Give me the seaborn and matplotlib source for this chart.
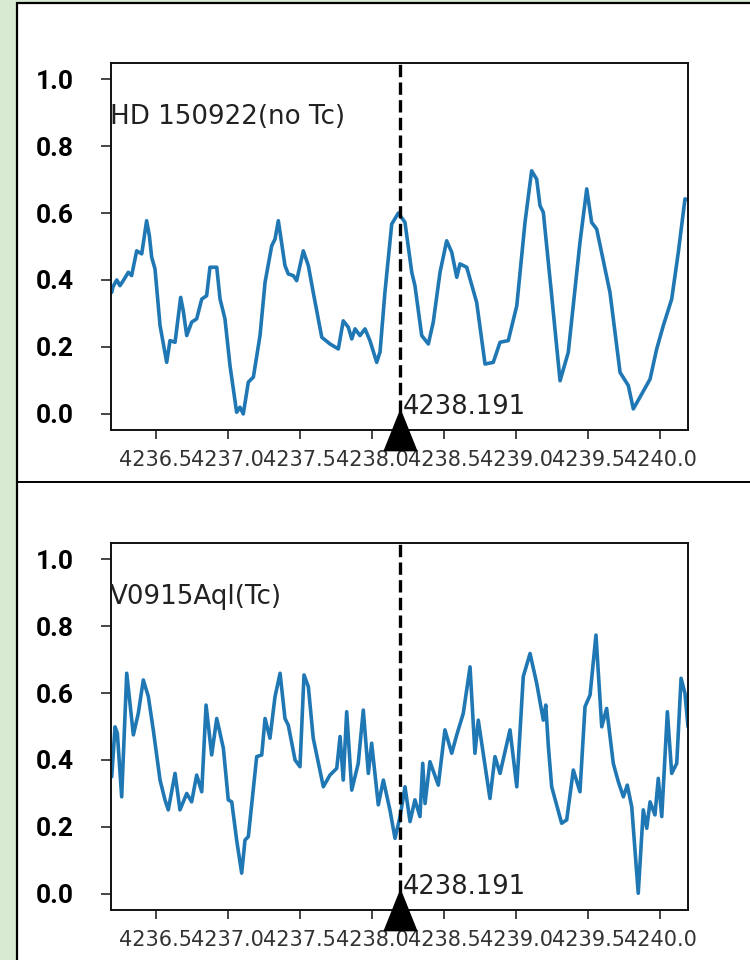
import numpy as np
import pandas as pd
import matplotlib.pyplot as plt
import seaborn as sns
from matplotlib.patches import Rectangle
from matplotlib.lines import Line2D

# Tc I line and the window shown around it
line_center = 4238.191
half_window = 2.0

# HD 150922 (no Tc) - normalised spectrum
hd_wave = [4236.196, 4236.205, 4236.231, 4236.253, 4236.276, 4236.311, 4236.334, 4236.369,
           4236.404, 4236.438, 4236.457, 4236.473, 4236.496, 4236.531, 4236.577, 4236.600,
           4236.635, 4236.674, 4236.692, 4236.716, 4236.750, 4236.785, 4236.820, 4236.854,
           4236.877, 4236.924, 4236.947, 4236.981, 4237.016, 4237.062, 4237.085, 4237.108,
           4237.143, 4237.178, 4237.224, 4237.259, 4237.305, 4237.328, 4237.351, 4237.363,
           4237.397, 4237.420, 4237.455, 4237.478, 4237.524, 4237.559, 4237.593, 4237.652,
           4237.709, 4237.767, 4237.801, 4237.836, 4237.860, 4237.883, 4237.917, 4237.952,
           4237.986, 4238.033, 4238.056, 4238.090, 4238.137, 4238.183, 4238.229, 4238.276,
           4238.298, 4238.345, 4238.391, 4238.425, 4238.472, 4238.518, 4238.553, 4238.588,
           4238.610, 4238.657, 4238.726, 4238.784, 4238.841, 4238.888, 4238.945, 4239.004,
           4239.061, 4239.107, 4239.142, 4239.165, 4239.188, 4239.246, 4239.304, 4239.361,
           4239.442, 4239.489, 4239.523, 4239.558, 4239.650, 4239.720, 4239.777, 4239.812,
           4239.858, 4239.928, 4239.974, 4240.020, 4240.078, 4240.124, 4240.170, 4240.191]
hd_flux = [0.363, 0.380, 0.400, 0.383, 0.398, 0.423, 0.413, 0.487,
           0.478, 0.577, 0.532, 0.468, 0.433, 0.264, 0.154, 0.219,
           0.214, 0.348, 0.308, 0.234, 0.274, 0.284, 0.343, 0.353,
           0.438, 0.438, 0.343, 0.284, 0.144, 0.005, 0.020, 0.000,
           0.095, 0.110, 0.234, 0.393, 0.502, 0.522, 0.577, 0.542,
           0.443, 0.418, 0.413, 0.398, 0.487, 0.443, 0.363, 0.229,
           0.209, 0.194, 0.278, 0.259, 0.224, 0.254, 0.234, 0.254,
           0.219, 0.154, 0.185, 0.363, 0.567, 0.600, 0.572, 0.423,
           0.383, 0.234, 0.209, 0.274, 0.423, 0.517, 0.483, 0.408,
           0.448, 0.438, 0.333, 0.149, 0.154, 0.214, 0.219, 0.323,
           0.572, 0.726, 0.701, 0.622, 0.602, 0.353, 0.099, 0.184,
           0.512, 0.672, 0.572, 0.552, 0.363, 0.124, 0.085, 0.015,
           0.050, 0.104, 0.194, 0.264, 0.343, 0.483, 0.642, 0.640]

# V0915 Aql (Tc)
v_wave = [4236.196, 4236.219, 4236.235, 4236.265, 4236.300, 4236.346, 4236.380, 4236.415,
          4236.450, 4236.484, 4236.531, 4236.565, 4236.588, 4236.635, 4236.669, 4236.716,
          4236.750, 4236.785, 4236.820, 4236.850, 4236.889, 4236.924, 4236.970, 4237.004,
          4237.028, 4237.062, 4237.097, 4237.120, 4237.143, 4237.201, 4237.236, 4237.259,
          4237.293, 4237.328, 4237.363, 4237.397, 4237.420, 4237.467, 4237.501, 4237.529,
          4237.559, 4237.593, 4237.663, 4237.709, 4237.756, 4237.779, 4237.801, 4237.825,
          4237.860, 4237.905, 4237.940, 4237.975, 4237.998, 4238.044, 4238.079, 4238.125,
          4238.160, 4238.195, 4238.229, 4238.264, 4238.298, 4238.333, 4238.352, 4238.368,
          4238.402, 4238.460, 4238.506, 4238.553, 4238.588, 4238.633, 4238.680, 4238.714,
          4238.737, 4238.818, 4238.853, 4238.888, 4238.957, 4239.004, 4239.049, 4239.096,
          4239.142, 4239.188, 4239.205, 4239.223, 4239.246, 4239.315, 4239.350, 4239.396,
          4239.442, 4239.477, 4239.512, 4239.553, 4239.593, 4239.627, 4239.673, 4239.708,
          4239.743, 4239.770, 4239.801, 4239.846, 4239.881, 4239.905, 4239.928, 4239.962,
          4239.985, 4240.009, 4240.048, 4240.078, 4240.113, 4240.143, 4240.170, 4240.191]
v_flux = [0.350, 0.499, 0.480, 0.290, 0.659, 0.475, 0.539, 0.639,
          0.589, 0.490, 0.340, 0.281, 0.251, 0.360, 0.251, 0.300,
          0.275, 0.355, 0.305, 0.564, 0.415, 0.524, 0.435, 0.281,
          0.275, 0.161, 0.062, 0.161, 0.171, 0.410, 0.415, 0.524,
          0.465, 0.589, 0.659, 0.524, 0.504, 0.400, 0.380, 0.654,
          0.619, 0.465, 0.320, 0.355, 0.375, 0.470, 0.340, 0.544,
          0.310, 0.390, 0.549, 0.360, 0.450, 0.266, 0.340, 0.250,
          0.166, 0.231, 0.320, 0.216, 0.281, 0.231, 0.390, 0.270,
          0.395, 0.325, 0.490, 0.420, 0.475, 0.539, 0.678, 0.420,
          0.519, 0.285, 0.410, 0.360, 0.490, 0.320, 0.649, 0.718,
          0.629, 0.519, 0.564, 0.440, 0.320, 0.211, 0.221, 0.370,
          0.305, 0.559, 0.594, 0.773, 0.499, 0.554, 0.390, 0.335,
          0.290, 0.325, 0.260, 0.002, 0.251, 0.196, 0.275, 0.236,
          0.345, 0.231, 0.544, 0.360, 0.390, 0.644, 0.599, 0.499]

star_names = ['HD 150922(no Tc)', 'V0915Aql(Tc)']
x_ticks = [4236.5, 4237.0, 4237.5, 4238.0, 4238.5, 4239.0, 4239.5, 4240.0]
y_ticks = [0.0, 0.2, 0.4, 0.6, 0.8, 1.0]

sns.set_style('ticks')
plt.rcParams['font.family'] = ['DejaVu Sans']

fig = plt.figure(figsize=(7.5, 9.6), dpi=100)
fig.patch.set_facecolor('#d9ead3')

# white sheet with black border, two stacked screenshots
sheet = Rectangle((17 / 750, -0.01), 1.0, 1 - 3 / 960 + 0.01, transform=fig.transFigure,
                  facecolor='white', edgecolor='black', linewidth=1.6, zorder=-10)
fig.patches.append(sheet)
sep = Line2D([17 / 750, 1.0], [1 - 482 / 960, 1 - 482 / 960], transform=fig.transFigure,
             color='black', linewidth=1.4, zorder=-5)
fig.lines.append(sep)

# slightly tall triangle marking the line position
tri = [(-0.8, -1.0), (0.8, -1.0), (0.0, 1.0), (-0.8, -1.0)]

spectra = [(hd_wave, hd_flux), (v_wave, v_flux)]
ax_bottoms = [1 - 430 / 960, 1 - 910 / 960]

for (wave, flux), name, bottom in zip(spectra, star_names, ax_bottoms):
    ax = fig.add_axes([111 / 750, bottom, 577 / 750, 367 / 960])
    ax.set_zorder(1)
    ax.set_facecolor('white')
    df = pd.DataFrame({'wave': wave, 'flux': flux})
    sns.lineplot(data=df, x='wave', y='flux', ax=ax, color='#1f77b4', linewidth=2.6,
                 estimator=None, sort=False)
    ax.set_xlim(line_center - half_window, line_center + half_window)
    ax.set_ylim(-0.048, 1.048)
    ax.axvline(line_center, color='black', linestyle='--', linewidth=2.4)
    ax.plot([line_center], [-0.048], marker=tri, color='black', markersize=29,
            clip_on=False, zorder=5)
    ax.text(line_center + 0.02, 0.0, f'{line_center:.3f}', fontsize=18.5, color='#222222',
            va='baseline', ha='left')
    ax.text(line_center - half_window - 0.01, 0.865, name, fontsize=18.8, color='#222222',
            va='baseline', ha='left')

    ax.set_xticks(x_ticks)
    ax.set_xticklabels([f'{t:.1f}' for t in x_ticks], fontsize=15, color='#333333')
    ax.set_yticks(y_ticks)
    ax.set_yticklabels([f'{t:.1f}' for t in y_ticks], fontsize=19, fontweight='bold',
                       family='Roboto', color='black')
    ax.tick_params(axis='y', length=7, width=1.2, pad=20)
    ax.tick_params(axis='x', length=6.5, width=1.2, pad=8)
    ax.set_xlabel('')
    ax.set_ylabel('')
    for sp in ax.spines.values():
        sp.set_visible(True)
        sp.set_linewidth(1.4)
        sp.set_color('#111111')

fig.savefig('out.png', dpi=100, facecolor=fig.get_facecolor())
